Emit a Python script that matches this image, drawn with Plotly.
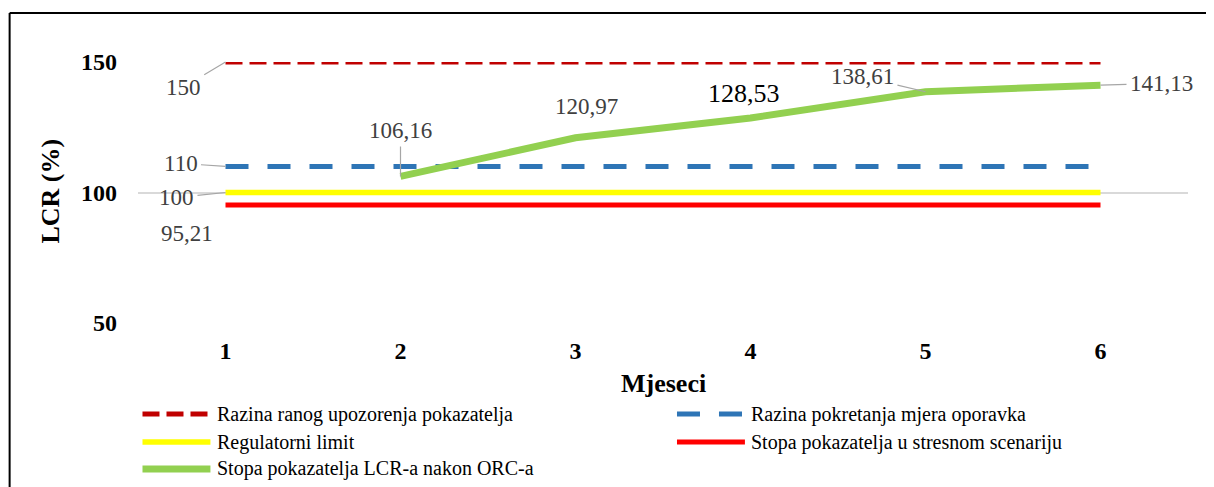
import plotly.graph_objects as go

# ---- data ----
months = [1, 2, 3, 4, 5, 6]
month_labels = ["1", "2", "3", "4", "5", "6"]
rano_upozorenje = [150, 150, 150, 150, 150, 150]
pokretanje_oporavka = [110, 110, 110, 110, 110, 110]
regulatorni_limit = [100, 100, 100, 100, 100, 100]
stresni_scenarij = [95.21, 95.21, 95.21, 95.21, 95.21, 95.21]
nakon_orc = [None, 106.16, 120.97, 128.53, 138.61, 141.13]

names = [
    "Razina ranog upozorenja pokazatelja",
    "Razina pokretanja mjera oporavka",
    "Regulatorni limit",
    "Stopa pokazatelja u stresnom scenariju",
    "Stopa pokazatelja LCR-a nakon ORC-a",
]
y_ticks = [50, 100, 150]

# ---- styles ----
colors = ["#C00000", "#2E75B6", "#FFFF00", "#FF0000", "#92D050"]
widths = [5, 5, 5.5, 5, 7]
dashes = ["17px,7px", "23px,19px", "solid", "solid", "solid"]
series = [rano_upozorenje, pokretanje_oporavka, regulatorni_limit, stresni_scenarij, nakon_orc]

SERIF = "Liberation Serif, Times New Roman, serif"
OFF = 8  # default page body margin
W, H = 1214 - OFF, 487 - OFF
L, R, T, B = 137.5 - OFF, 25.5, 62 - OFF, 164
PW, PH = W - L - R, H - T - B


def px2x(px):
    return (px - OFF - L) / PW


def py2y(py):
    return (H - B - (py - OFF)) / PH


def fmt(v):
    s = f"{v:.2f}".rstrip("0").rstrip(".")
    return s.replace(".", ",")


fig = go.Figure()
draw_order = [2, 3, 1, 0, 4]
for i in draw_order:
    fig.add_trace(go.Scatter(
        x=months, y=series[i], mode="lines", name=names[i],
        line=dict(color=colors[i], width=widths[i], dash=dashes[i]),
        showlegend=False, cliponaxis=False, hoverinfo="skip",
    ))

annotations = []
label_gray = "#404040"
leader = "#A6A6A6"

# labels with leader lines (series index, point index, ax, ay)
arrow_labels = [
    (0, 0, -42, 25),
    (1, 0, -45, -3),
    (2, 0, -49, 5),
    (4, 1, 0, -46),
    (4, 4, -63, -15),
    (4, 5, 61, -2),
]
for si, pi, ax, ay in arrow_labels:
    v = series[si][pi]
    annotations.append(dict(
        x=months[pi], y=v, xref="x", yref="y", text=fmt(v),
        showarrow=True, arrowhead=0, arrowwidth=1.2, arrowcolor=leader,
        ax=ax, ay=ay, standoff=0, startstandoff=2,
        font=dict(family=SERIF, size=23, color=label_gray),
    ))

# labels without leader lines (series index, point index, xshift, yshift, size, color)
plain_labels = [
    (3, 0, -39, -28, 23, label_gray),
    (4, 2, 11, 31, 23, label_gray),
    (4, 3, -7, 25, 26, "#000000"),
]
for si, pi, xs, ys, sz, col in plain_labels:
    v = series[si][pi]
    annotations.append(dict(
        x=months[pi], y=v, xref="x", yref="y", text=fmt(v),
        showarrow=False, xshift=xs, yshift=ys,
        font=dict(family=SERIF, size=sz, color=col),
    ))

# axis titles
annotations.append(dict(
    x=0.5, y=py2y(383), xref="paper", yref="paper", text="<b>Mjeseci</b>",
    showarrow=False, font=dict(family=SERIF, size=26, color="#000000"),
    xanchor="center", yanchor="middle",
))
annotations.append(dict(
    x=px2x(49), y=py2y(191), xref="paper", yref="paper", text="<b>LCR (%)</b>",
    showarrow=False, textangle=-90, font=dict(family=SERIF, size=26, color="#000000"),
    xanchor="center", yanchor="middle",
))

shapes = []
# custom legend: (series index, symbol x start, symbol x end, text x, row y)
legend_items = [
    (0, 142, 210, 215, 414),
    (1, 677, 745, 749, 414),
    (2, 142, 210, 215, 442),
    (3, 677, 745, 749, 442),
    (4, 142, 210, 215, 469),
]
for si, x0, x1, tx, ry in legend_items:
    shapes.append(dict(
        type="line", xref="paper", yref="paper",
        x0=px2x(x0), x1=px2x(x1), y0=py2y(ry), y1=py2y(ry),
        line=dict(color=colors[si], width=widths[si], dash=dashes[si]),
    ))
    annotations.append(dict(
        x=px2x(tx), y=py2y(ry), xref="paper", yref="paper", text=names[si],
        showarrow=False, xanchor="left", yanchor="middle",
        font=dict(family=SERIF, size=20, color="#000000"),
    ))

# outer frame (top and left edges visible)
shapes.append(dict(type="line", xref="paper", yref="paper",
                   x0=px2x(9), x1=px2x(1230), y0=py2y(13), y1=py2y(13),
                   line=dict(color="#000000", width=2)))
shapes.append(dict(type="line", xref="paper", yref="paper",
                   x0=px2x(9), x1=px2x(9), y0=py2y(13), y1=py2y(500),
                   line=dict(color="#000000", width=2)))

fig.update_layout(
    width=W, height=H,
    margin=dict(l=L, r=R, t=T, b=B, autoexpand=False),
    paper_bgcolor="white", plot_bgcolor="white",
    showlegend=False,
    annotations=annotations, shapes=shapes,
    xaxis=dict(
        range=[0.5, 6.5], tickmode="array", tickvals=months, ticktext=month_labels,
        showgrid=False, zeroline=False, showline=False, ticks="",
        tickfont=dict(family=SERIF, size=24, color="#000000", weight="bold"),
        ticklabelstandoff=11,
    ),
    yaxis=dict(
        range=[50, 150], tickmode="array", tickvals=y_ticks,
        showgrid=True, gridcolor="#D9D9D9", gridwidth=1.5,
        zeroline=False, showline=False, ticks="",
        tickfont=dict(family=SERIF, size=24, color="#000000", weight="bold"),
        ticklabelstandoff=20,
    ),
)

fig.write_html("out.html")
